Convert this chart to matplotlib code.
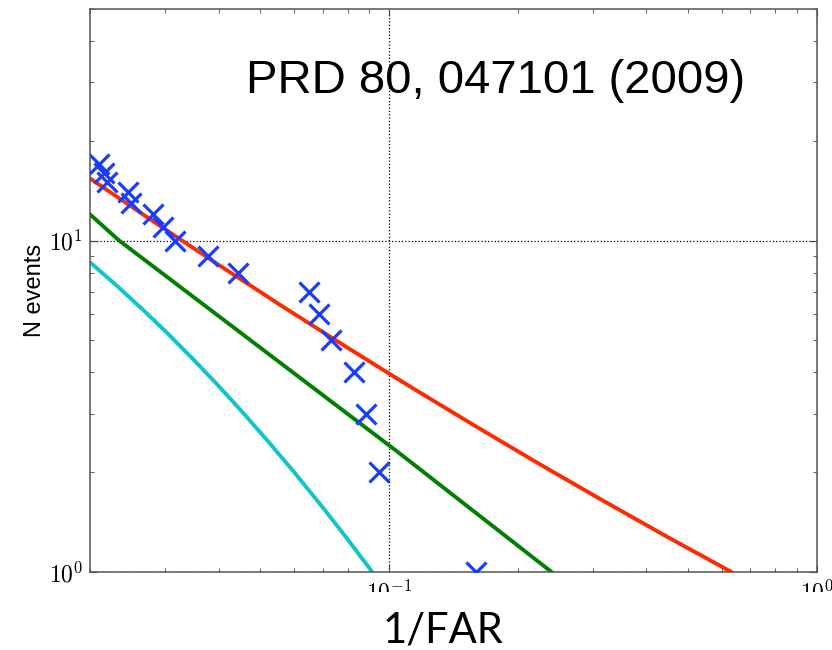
import matplotlib
matplotlib.use("Agg")
import matplotlib.pyplot as plt
from matplotlib.patches import Rectangle
from matplotlib.ticker import FuncFormatter
import numpy as np

plt.rcParams['mathtext.fontset'] = 'cm'
plt.rcParams['xtick.labelsize'] = 17
plt.rcParams['ytick.labelsize'] = 17

# observed events: 1/FAR vs cumulative number
far_inv = [0.02104, 0.02151, 0.02197, 0.0246, 0.0250, 0.0280, 0.02955, 0.03152,
           0.0377, 0.0443, 0.0650, 0.0686, 0.0733, 0.0827, 0.0882, 0.0948, 0.1596]
n_events = [17, 16, 15, 14, 13, 12, 11, 10, 9, 8, 7, 6, 5, 4, 3, 2, 1]

# background expectation curves
red_x = [0.02, 0.02825, 0.03991, 0.05637, 0.07962, 0.1125, 0.1589, 0.2244,
         0.317, 0.4477, 0.632]
red_n = [15.4, 11.38, 8.46, 6.33, 4.77, 3.615, 2.76, 2.12, 1.64, 1.276, 1.0]
green_x = [0.02, 0.0234, 0.1059, 0.24]
green_n = [12.0, 10.0, 2.28, 1.0]
cyan_x = [0.02, 0.02296, 0.02637, 0.03027, 0.03476, 0.03991, 0.04582, 0.05261,
          0.0604, 0.06935, 0.07962, 0.0914]
cyan_n = [8.6, 7.36, 6.25, 5.27, 4.40, 3.65, 3.00, 2.447, 1.981, 1.59, 1.267, 1.0]

fig = plt.figure(figsize=(8.32, 6.5), dpi=100)
ax = fig.add_axes([0.1082, 0.12, 0.8734, 0.8662])

ax.plot(cyan_x, cyan_n, color='#10c4c8', lw=2.8)
ax.plot(green_x, green_n, color='#008000', lw=2.8)
ax.plot(red_x, red_n, color='#ff2a00', lw=2.8)
ax.plot(far_inv, n_events, 'x', color='#1a3cff', ms=14, mew=2.3, zorder=5)

ax.set_xscale('log')
ax.set_yscale('log')
ax.set_xlim(0.02, 1)
ax.set_ylim(1, 50)
ax.grid(True, which='major', color='black', ls=':', lw=0.9)

fmt = FuncFormatter(lambda v, p: r'$10^{%d}$' % int(round(np.log10(v))))
ax.xaxis.set_major_formatter(fmt)
ax.yaxis.set_major_formatter(fmt)

ax.tick_params(which='both', direction='in', top=True, right=True, color='#444444')
ax.tick_params(which='major', length=5)
ax.tick_params(axis='x', which='major', pad=6)
ax.tick_params(axis='y', which='major', pad=5)
ax.tick_params(which='minor', length=3)
for s in ax.spines.values():
    s.set_color('#555555')
    s.set_linewidth(1.1)

ax.set_ylabel('N events', family='Liberation Sans', fontsize=17, labelpad=2)

fig.text(0.2957, 0.857, 'PRD 80, 047101 (2009)', family='Liberation Sans',
         fontsize=34, va='baseline', ha='left')

# white strip hiding most of the x tick labels, as in the slide
fig.patches.append(Rectangle((0, 0), 1, 0.0892, transform=fig.transFigure,
                             facecolor='white', edgecolor='none', zorder=10))
fig.text(0.532, 0.011, '1/FAR', family='Lato', fontsize=30,
         ha='center', va='baseline', zorder=11)

fig.savefig('out.png', dpi=100)
